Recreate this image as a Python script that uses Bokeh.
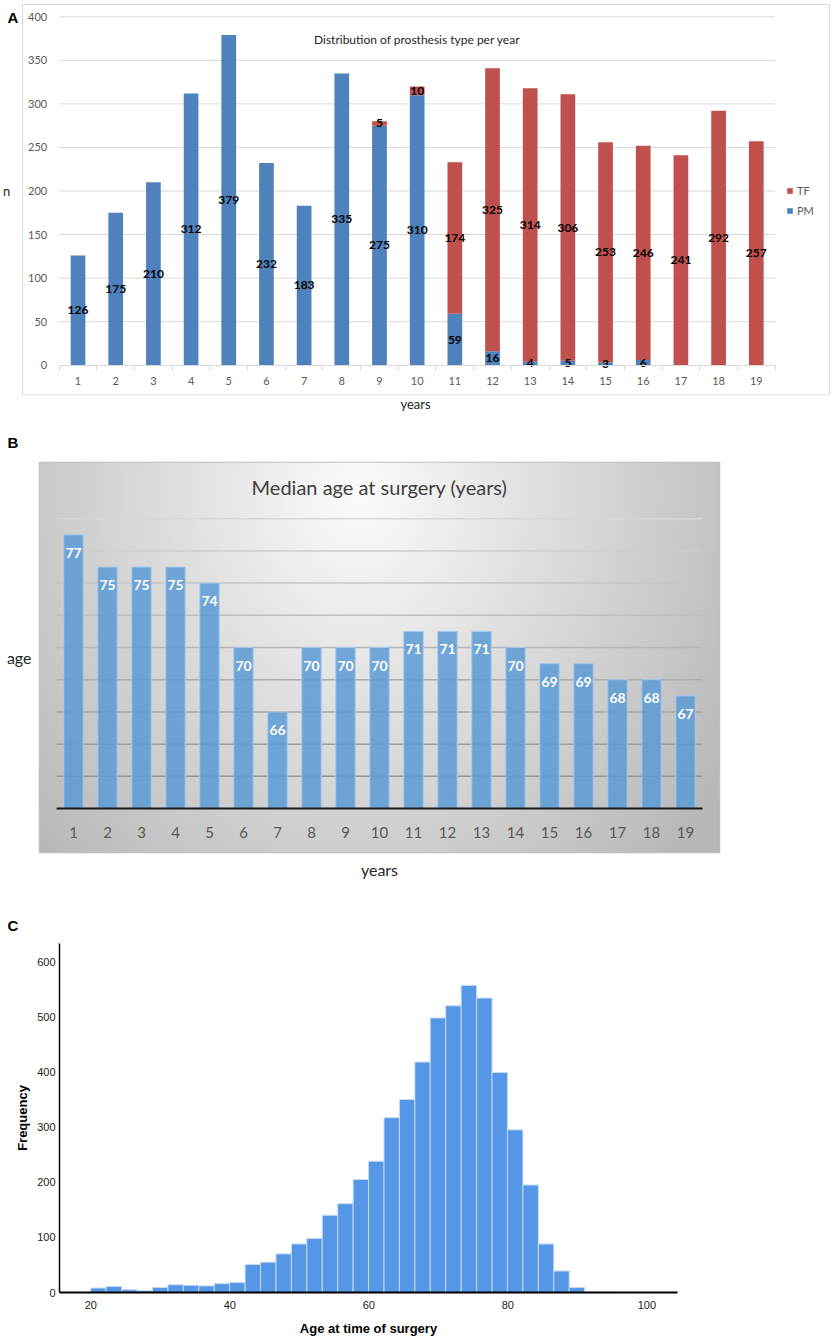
import numpy as np
from bokeh.plotting import figure
from bokeh.models import (ColumnDataSource, FixedTicker, Label, Legend, LegendItem,
                          Range1d, LinearAxis)
from bokeh.core.properties import value
from bokeh.embed import file_html
from bokeh.resources import INLINE

# ---------------- data ----------------
years = list(range(1, 20))
pm_counts = [126, 175, 210, 312, 379, 232, 183, 335, 275, 310, 59, 16, 4, 5, 3, 6, 0, 0, 0]
tf_counts = [0, 0, 0, 0, 0, 0, 0, 0, 5, 10, 174, 325, 314, 306, 253, 246, 241, 292, 257]
a_yticks = [0, 50, 100, 150, 200, 250, 300, 350, 400]

median_age = [77, 75, 75, 75, 74, 70, 66, 70, 70, 70, 71, 71, 71, 70, 69, 69, 68, 68, 67]
b_base = 60
b_grid = [62, 64, 66, 68, 70, 72, 74, 76, 78]

hist_counts = [8, 11, 5, 3, 9, 14, 13, 12, 16, 18, 51, 55, 70, 88, 98, 140, 161, 205,
               238, 317, 350, 418, 498, 520, 557, 534, 399, 295, 195, 88, 39, 9, 1, 1]
hist_start = 20.0
hist_bin_width = 2.22
c_xticks = [20, 40, 60, 80, 100]
c_yticks = [0, 100, 200, 300, 400, 500, 600]

BLUE = "#4F81BD"
RED = "#C0504D"
FA = "Lato"
FC = "Liberation Sans"


def style_title(p, text, offset, standoff):
    p.title.text = text
    p.title.align = "left"
    p.title.offset = offset
    p.title.standoff = standoff
    p.title.text_font = FC
    p.title.text_font_style = "bold"
    p.title.text_font_size = "15px"
    p.title.text_color = "black"


# ---------------- panel A ----------------
# frame covers the whole chart box; category axis and value axis sit inside it
a_x0, a_x1 = -1.0579, 20.970
a_y0, a_y1 = -34.79, 418.7
pa = figure(frame_width=830, frame_height=395, x_range=Range1d(a_x0, a_x1),
            y_range=Range1d(a_y0, a_y1), output_backend="svg", toolbar_location=None,
            min_border_left=0, min_border_right=0, min_border_top=0, min_border_bottom=19)
pa.outline_line_color = None
pa.xgrid.visible = False
pa.ygrid.visible = False

# chart box
pa.quad(left=-0.474, right=20.943, top=414.1, bottom=-34.2, fill_alpha=0,
        line_color="#D9D9D9", line_width=1)
# gridlines
pa.segment(x0=0.5, x1=19.5, y0=a_yticks[1:], y1=a_yticks[1:], line_color="#D9D9D9", line_width=1)

src = ColumnDataSource(dict(year=years, PM=pm_counts, TF=tf_counts))
rs = pa.vbar_stack(["PM", "TF"], x="year", width=0.39, fill_color=[BLUE, RED],
                   line_color=None, source=src)

lx, ly, lt = [], [], []
for yr, pm, tf in zip(years, pm_counts, tf_counts):
    if pm > 0:
        lx.append(yr); ly.append(pm / 2); lt.append(str(pm))
    if tf > 0:
        lx.append(yr); ly.append(pm + tf / 2); lt.append(str(tf))
pa.text(x=lx, y=ly, text=lt, text_align="center", text_baseline="middle",
        text_font=value(FA), text_font_style="bold", text_font_size="12px", text_color="black")

ya = pa.yaxis[0]
ya.fixed_location = 0.5
ya.bounds = (0, 400)
ya.ticker = FixedTicker(ticks=a_yticks)
ya.axis_line_color = None
ya.major_tick_line_color = None
ya.minor_tick_line_color = None
ya.major_tick_out = 0
ya.major_label_standoff = 12
ya.major_label_text_font = FA
ya.major_label_text_font_size = "11px"
ya.major_label_text_color = "#595959"
ya.axis_label = "n"
ya.axis_label_orientation = "horizontal"
ya.axis_label_standoff = 15
ya.axis_label_text_font = FA
ya.axis_label_text_font_style = "normal"
ya.axis_label_text_font_size = "13px"
ya.axis_label_text_color = "#262626"

xa = LinearAxis(fixed_location=0, bounds=(0.5, 19.5),
                ticker=FixedTicker(ticks=years,
                                   minor_ticks=[y - 0.5 for y in years] + [years[-1] + 0.5]))
xa.axis_line_color = "#D9D9D9"
xa.major_tick_line_color = None
xa.major_tick_out = 0
xa.major_tick_in = 0
xa.minor_tick_line_color = "#D9D9D9"
xa.minor_tick_out = 5
xa.minor_tick_in = 0
xa.major_label_standoff = 7
xa.major_label_text_font = FA
xa.major_label_text_font_size = "11px"
xa.major_label_text_color = "#595959"
pa.add_layout(xa, "below")

xt = pa.xaxis[0]
xt.ticker = FixedTicker(ticks=[])
xt.axis_line_color = None
xt.major_tick_out = 0
xt.major_label_standoff = 0
xt.axis_label = "years"
xt.axis_label_standoff = 0
xt.axis_label_text_font = FA
xt.axis_label_text_font_style = "normal"
xt.axis_label_text_font_size = "13px"
xt.axis_label_text_color = "#262626"

pa.add_layout(Label(x=10, y=374, text="Distribution of prosthesis type per year",
                    text_align="center", text_baseline="middle", text_font=FA,
                    text_font_size="12px", text_color="#262626"))
pa.add_layout(Label(x=-0.872, y=408.4, text="A", text_align="left", text_baseline="top",
                    text_font=FC, text_font_style="bold", text_font_size="15px",
                    text_color="black"))

legend = Legend(items=[LegendItem(label="TF", renderers=[rs[1]]),
                       LegendItem(label="PM", renderers=[rs[0]])],
                location=(786, 178), orientation="vertical", glyph_width=7, glyph_height=7,
                label_height=13, label_text_font=FA, label_text_font_size="11px",
                label_text_color="#595959", padding=0, spacing=7, label_standoff=4,
                border_line_color=None, background_fill_alpha=0, margin=0)
pa.add_layout(legend)

# ---------------- panel B ----------------
b_y0, b_y1 = 57.27, 81.49
pb = figure(frame_width=680, frame_height=390, x_range=Range1d(0, 20),
            y_range=Range1d(b_y0, b_y1), output_backend="svg", toolbar_location=None,
            min_border_left=39, min_border_right=110, min_border_top=48, min_border_bottom=30)
pb.outline_line_color = "#BFBFBF"
pb.outline_line_width = 1.5
pb.xgrid.visible = False
pb.ygrid.visible = False
style_title(pb, "B", -32, 23)

nx, ny = 340, 195
u = (np.arange(nx) + 0.5) / nx
v = 1 - (np.arange(ny) + 0.5) / ny
U, V = np.meshgrid(u, v)
r = np.sqrt(((U - 0.47) / 0.75) ** 2 + ((V - 0.08) / 1.6) ** 2)
g = np.clip(252 - 80 * r, 182, 252).astype(np.uint8)
rgba = np.empty((ny, nx, 4), dtype=np.uint8)
rgba[..., 0] = g
rgba[..., 1] = g
rgba[..., 2] = g
rgba[..., 3] = 255
img = rgba.view(np.uint32).reshape(ny, nx)
pb.image_rgba(image=[img], x=0, y=b_y0, dw=20, dh=b_y1 - b_y0)

gcols = []
for gv in b_grid:
    t = (gv - b_grid[0]) / (b_grid[-1] - b_grid[0])
    c = int(150 + 65 * t)
    gcols.append("#%02x%02x%02x" % (c, c, c))
pb.segment(x0=0.5, x1=19.5, y0=b_grid, y1=b_grid, line_color=gcols, line_width=1.5)

pb.vbar(x=years, top=median_age, bottom=b_base, width=0.57, fill_color="#5B9BD5",
        fill_alpha=0.85, line_color="#A8CAEA", line_width=1)
pb.text(x=years, y=[a - 1.12 for a in median_age], text=[str(a) for a in median_age],
        text_align="center", text_baseline="middle", text_font=value(FA),
        text_font_style="bold", text_font_size="14px", text_color="white")

pb.xaxis.ticker = FixedTicker(ticks=[])
pb.xaxis.axis_line_color = None
pb.xaxis.major_tick_out = 0
pb.xaxis.major_label_standoff = 0
pb.xaxis.axis_label = "years"
pb.xaxis.axis_label_standoff = 7
pb.xaxis.axis_label_text_font = FA
pb.xaxis.axis_label_text_font_style = "normal"
pb.xaxis.axis_label_text_font_size = "16px"
pb.xaxis.axis_label_text_color = "#262626"

pb.yaxis.ticker = FixedTicker(ticks=[])
pb.yaxis.axis_line_color = None
pb.yaxis.major_tick_out = 0
pb.yaxis.major_label_standoff = 0
pb.yaxis.axis_label = "age"
pb.yaxis.axis_label_orientation = "horizontal"
pb.yaxis.axis_label_standoff = 8
pb.yaxis.axis_label_text_font = FA
pb.yaxis.axis_label_text_font_style = "normal"
pb.yaxis.axis_label_text_font_size = "16px"
pb.yaxis.axis_label_text_color = "#262626"

bx = LinearAxis(fixed_location=b_base, bounds=(0.5, 19.5), ticker=FixedTicker(ticks=years))
bx.axis_line_color = "#1A1A1A"
bx.axis_line_width = 2
bx.major_tick_line_color = None
bx.minor_tick_line_color = None
bx.major_tick_out = 0
bx.major_label_standoff = 18
bx.major_label_text_font = FA
bx.major_label_text_font_size = "15px"
bx.major_label_text_color = "#595959"
pb.add_layout(bx, "below")

pb.add_layout(Label(x=10, y=79.94, text="Median age at surgery (years)",
                    text_align="center", text_baseline="middle", text_font=FA,
                    text_font_size="20px", text_color="#404040"))

# ---------------- panel C ----------------
edges = [hist_start + i * hist_bin_width for i in range(len(hist_counts) + 1)]
pc = figure(frame_width=618, frame_height=349, x_range=Range1d(15.5, 104.4),
            y_range=Range1d(0, 633), output_backend="svg", toolbar_location=None,
            min_border_left=59, min_border_right=149, min_border_top=61, min_border_bottom=45)
pc.outline_line_color = None
pc.xgrid.visible = False
pc.ygrid.visible = False
style_title(pc, "C", -52, 20)
pc.quad(left=edges[:-1], right=edges[1:], top=hist_counts, bottom=0,
        fill_color="#5596E6", line_color="#C5DAF7", line_width=1)

pc.xaxis.ticker = FixedTicker(ticks=c_xticks)
pc.xaxis.axis_line_color = "black"
pc.xaxis.axis_line_width = 2
pc.xaxis.major_tick_line_color = None
pc.xaxis.minor_tick_line_color = None
pc.xaxis.major_tick_out = 0
pc.xaxis.major_label_standoff = 8
pc.xaxis.major_label_text_font = FC
pc.xaxis.major_label_text_font_size = "11px"
pc.xaxis.major_label_text_color = "#222222"
pc.xaxis.axis_label = "Age at time of surgery"
pc.xaxis.axis_label_standoff = 9
pc.xaxis.axis_label_text_font = FC
pc.xaxis.axis_label_text_font_style = "bold"
pc.xaxis.axis_label_text_font_size = "13px"
pc.xaxis.axis_label_text_color = "black"

pc.yaxis.ticker = FixedTicker(ticks=c_yticks)
pc.yaxis.axis_line_color = "black"
pc.yaxis.axis_line_width = 1.5
pc.yaxis.major_tick_line_color = None
pc.yaxis.minor_tick_line_color = None
pc.yaxis.major_tick_out = 0
pc.yaxis.major_label_standoff = 4
pc.yaxis.major_label_text_font = FC
pc.yaxis.major_label_text_font_size = "11px"
pc.yaxis.major_label_text_color = "#222222"
pc.yaxis.axis_label = "Frequency"
pc.yaxis.axis_label_standoff = 4
pc.yaxis.axis_label_text_font = FC
pc.yaxis.axis_label_text_font_style = "bold"
pc.yaxis.axis_label_text_font_size = "13px"
pc.yaxis.axis_label_text_color = "black"

open("out.html", "w").write(file_html([pa, pb, pc], INLINE))
